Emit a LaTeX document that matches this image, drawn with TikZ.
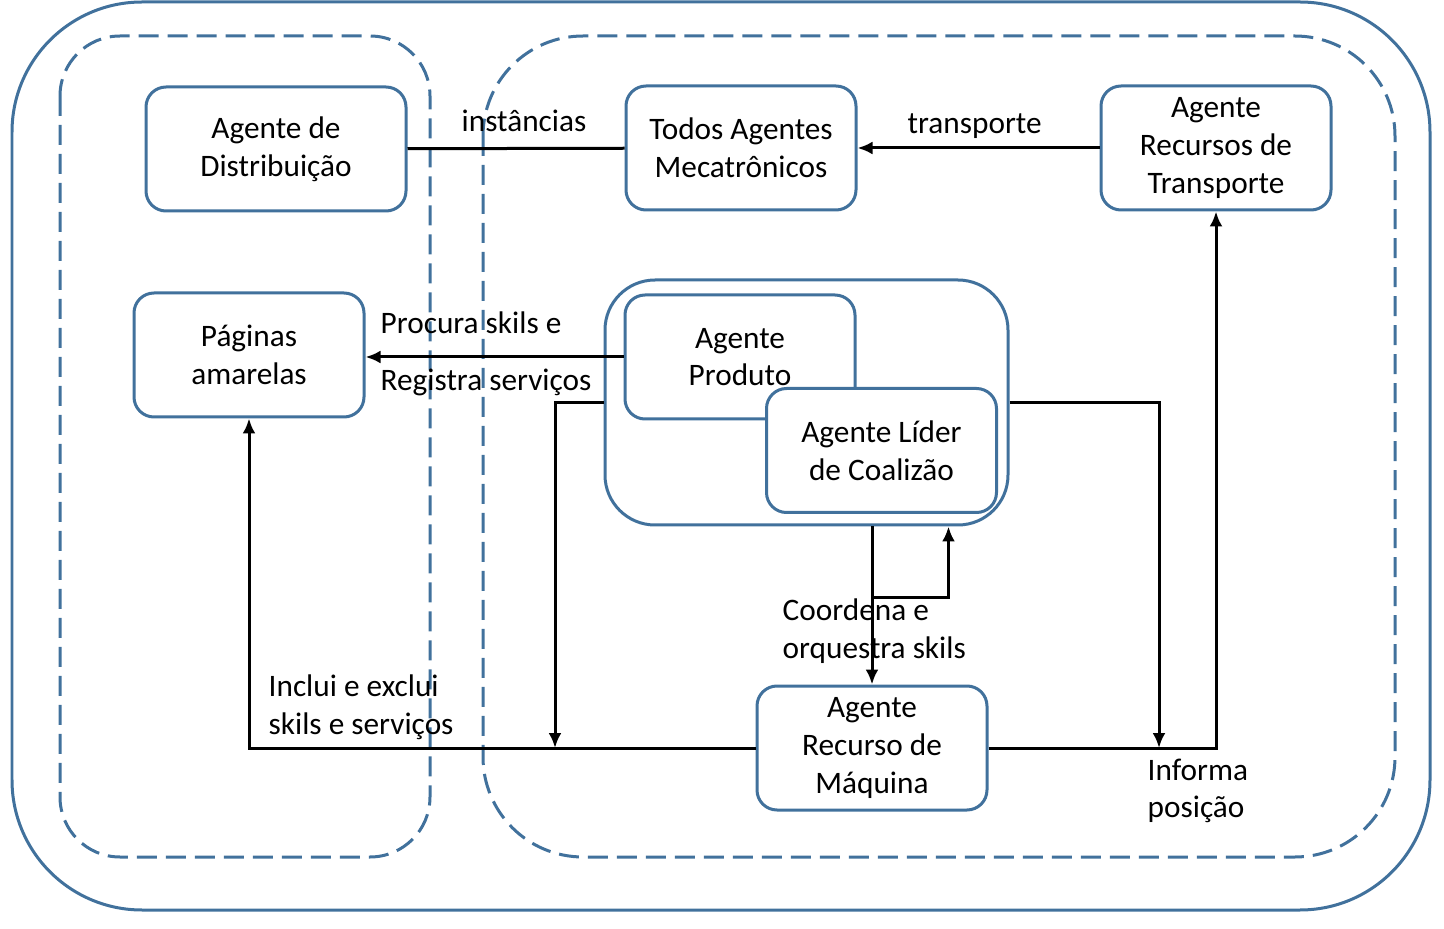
\documentclass[tikz,border=0pt]{standalone}
\usepackage{fontspec}
\setmainfont{Carlito}
\usepackage{tikz}
\usetikzlibrary{arrows.meta,
                calc,
                positioning}
\definecolor{borda}{RGB}{65,113,156}

\begin{document}
\begin{tikzpicture}[x=0.1mm,y=-0.1mm,
  agente/.style={draw=borda,line width=0.3mm,fill=white,rounded corners=2mm,
                 align=center,inner sep=0.5pt,minimum width=23mm,minimum height=12.4mm,
                 font=\fontsize{8.9}{10.7}\selectfont},
  rotulo/.style={align=left,inner sep=0pt,font=\fontsize{8.9}{10.7}\selectfont},
  liga/.style={line width=0.3mm},
  seta/.style={line width=0.3mm,-{Latex[length=1.5mm,width=1.3mm]}},
  tracejado/.style={draw=borda,line width=0.3mm,dash pattern=on 2mm off 0.9mm}]
\useasboundingbox (0,0) rectangle (1444,929);

\draw[borda,line width=0.3mm,rounded corners=13mm] (12,2) rectangle (1430,910);
\draw[tracejado,rounded corners=6mm] (60,36) rectangle (430,857);
\draw[tracejado,rounded corners=10mm] (483,36) rectangle (1395,857);

\node[agente,minimum width=26mm] (dist) at (276,149) {Agente de\\Distribuição};
\node[agente] (todos) at (741,148) {Todos Agentes\\Mecatrônicos};
\node[agente] (transp) at (1216,148) {Agente\\Recursos de\\Transporte};
\node[agente] (paginas) at (249,355) {Páginas\\amarelas};

\node[draw=borda,line width=0.3mm,fill=white,rounded corners=5mm,
      minimum width=40.3mm,minimum height=24.5mm] (grupo) at (806.5,402.5) {};
\node[agente] (produto) at (740,357) {Agente\\Produto};
\node[agente] (lider) at (881.5,450.5) {Agente Líder\\de Coalizão};
\node[agente] (maquina) at (872,748) {Agente\\Recurso de\\Máquina};

\coordinate (jm) at (555,748);
\coordinate (ji) at (1159,748);
\coordinate (jc) at (872,597);

\draw[liga] (dist) -- (todos);
\draw[seta] (transp) -- (todos);
\draw[seta] (produto.west) -- (produto.west -| paginas.east);
\draw[seta] (grupo.west) -| (jm);
\draw[seta] (grupo.east) -| (ji);
\draw[seta] (maquina.west) -| (paginas.south);
\draw[seta] (maquina.east) -| (transp.south);
\draw[seta] (maquina.north |- grupo.south) -- (maquina.north);
\draw[seta] (jc) -| ([xshift=14.2mm]grupo.south);

\node[rotulo,anchor=west] (linst) at (461,121) {instâncias};
\node[rotulo,anchor=west] (ltransp) at (907,126) {transporte};
\node[rotulo,anchor=west] (lprocura) at (380,323) {Procura skils e};
\node[rotulo,anchor=west] (lregistra) at (380,382) {Registra serviços};
\node[rotulo,anchor=west] (linclui) at (268,707) {Inclui e exclui\\skils e serviços};
\node[rotulo,anchor=west] (lcoord) at (782,631) {Coordena e\\orquestra skils};
\node[rotulo,anchor=west] (linforma) at (1147,791) {Informa\\posição};
\end{tikzpicture}
\end{document}
